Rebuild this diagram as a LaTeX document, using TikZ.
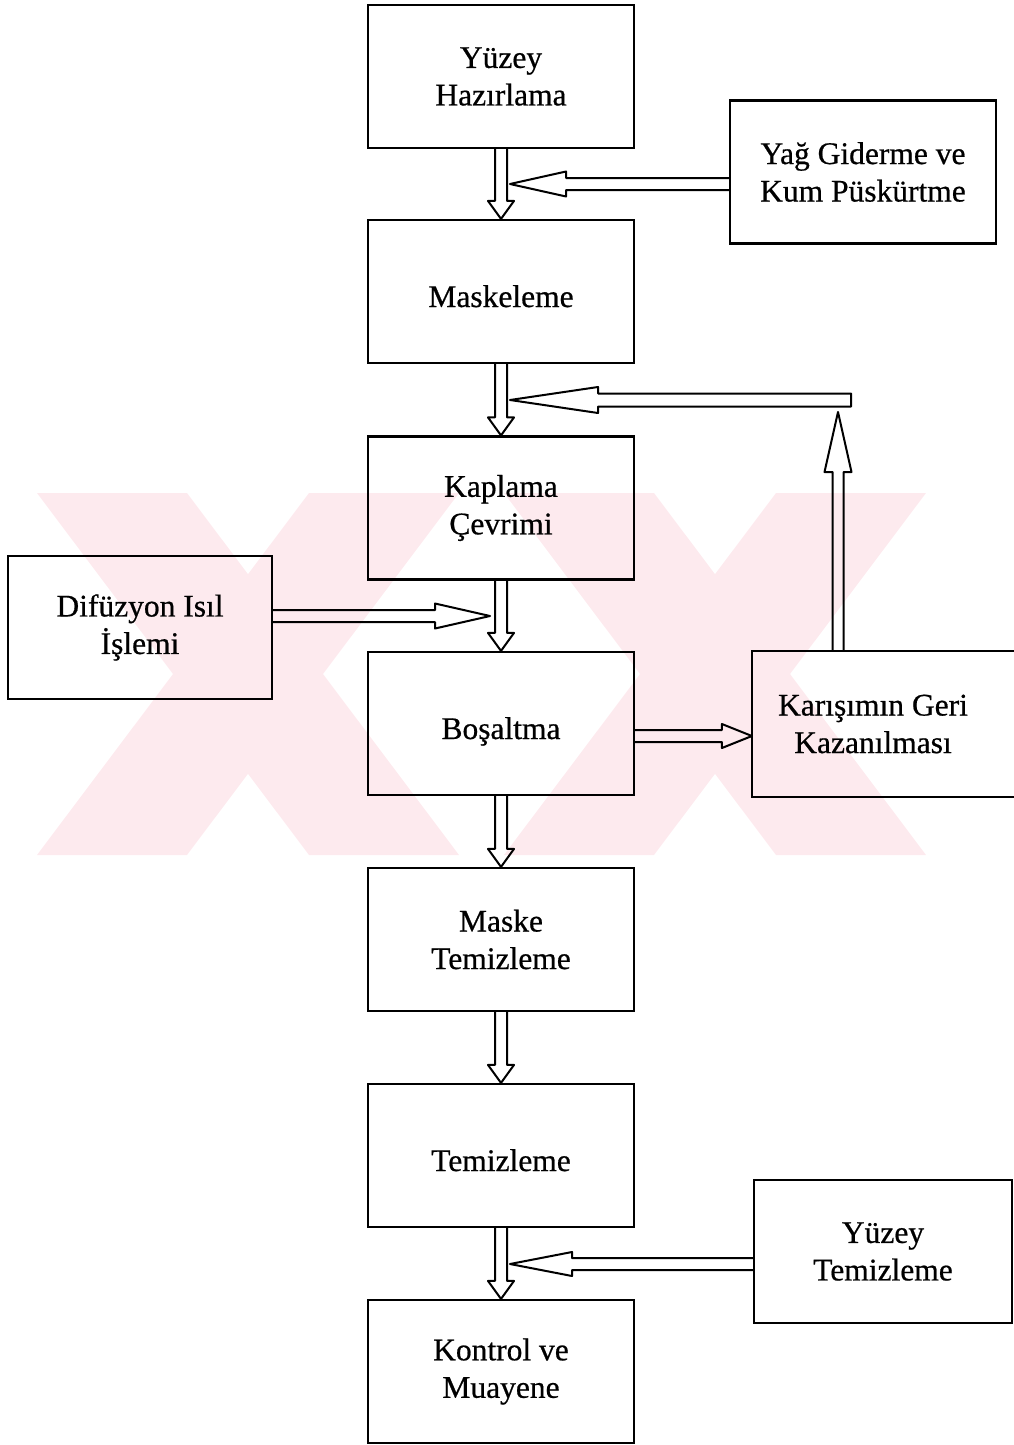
\documentclass[tikz,border=0pt]{standalone}
\usepackage{fontspec}
\setmainfont{Liberation Serif}
\newfontface\heavyserif{Liberation Serif}[FakeBold=0.6]
\usetikzlibrary{calc}
\definecolor{wm}{RGB}{253,234,238}
\tikzset{
  stepbox/.style={draw=black, line width=2.2pt, minimum width=266pt, minimum height=143pt,
    inner sep=0pt, align=center, font=\heavyserif\fontsize{31.5}{37.5}\selectfont},
  oneline/.style={text height=31pt, text depth=0pt},
  arr/.style={draw=black, line width=2pt, line join=round},
  edge/.style={draw=black, line width=2.2pt},
}
% down arrow between stacked boxes
\newcommand\dnarr[2]{\draw[arr] ($(#1.south)+(-6,0)$) -- ($(#2.north)+(-6,-18)$) -- ($(#2.north)+(-13,-18)$) -- (#2.north) -- ($(#2.north)+(13,-18)$) -- ($(#2.north)+(6,-18)$) -- ($(#1.south)+(6,0)$);}
% left-pointing arrow from node #1 to tip #2, head length #3, head half height #4
\newcommand\lfarr[4]{\draw[arr] ($(#1.west |- #2)+(0,-6)$) -- ($(#2)+(#3,-6)$) -- ($(#2)+(#3,-#4)$) -- (#2) -- ($(#2)+(#3,#4)$) -- ($(#2)+(#3,6)$) -- ($(#1.west |- #2)+(0,6)$);}
% right-pointing arrow from node #1 to tip #2
\newcommand\rtarr[4]{\draw[arr] ($(#1.east |- #2)+(0,-6)$) -- ($(#2)+(-#3,-6)$) -- ($(#2)+(-#3,-#4)$) -- (#2) -- ($(#2)+(-#3,#4)$) -- ($(#2)+(-#3,6)$) -- ($(#1.east |- #2)+(0,6)$);}
\begin{document}
\begin{tikzpicture}[x=1pt,y=-1pt]
\useasboundingbox (0,0) rectangle (1014,1445);
% faint watermark
\fill[wm] (37,493) -- (187,493) -- (459,855) -- (309,855) -- cycle;
\fill[wm] (309,493) -- (459,493) -- (187,855) -- (37,855) -- cycle;
\fill[wm] (504,493) -- (654,493) -- (926,855) -- (776,855) -- cycle;
\fill[wm] (776,493) -- (926,493) -- (654,855) -- (504,855) -- cycle;

% main column
\node[stepbox] (yh) at (501,76.5) {Yüzey\\Hazırlama};
\node[stepbox, oneline] (mk) at (501,291.5) {Maskeleme};
\node[stepbox] (kc) at (501,508) {Kaplama\\Çevrimi};
\node[stepbox, oneline] (bo) at (501,723.5) {Boşaltma};
\node[stepbox] (mt) at (501,939.5) {Maske\\Temizleme};
\node[stepbox, oneline] (tm) at (501,1155.5) {Temizleme};
\node[stepbox] (kv) at (501,1371.5) {Kontrol ve\\Muayene};
% side boxes
\node[stepbox] (yg) at (863,172) {Yağ Giderme ve\\Kum Püskürtme};
\node[stepbox, minimum width=264pt] (df) at (140,627.5) {Difüzyon Isıl\\İşlemi};
\node[stepbox, draw=none, minimum width=240pt, minimum height=144pt] (kg) at (873,724) {Karışımın Geri\\Kazanılması};
\draw[edge] ($(kg.north east)+(40,0)$) -- (kg.north west) -- (kg.south west) -- ($(kg.south east)+(40,0)$);
\node[stepbox, minimum width=258pt] (yt) at (883,1251.5) {Yüzey\\Temizleme};

% main flow arrows
\dnarr{yh}{mk}
\dnarr{mk}{kc}
\dnarr{kc}{bo}
\dnarr{bo}{mt}
\dnarr{mt}{tm}
\dnarr{tm}{kv}

% side arrows
\coordinate (t1) at (510,184);
\lfarr{yg}{t1}{56}{12.5}
\coordinate (t6) at (510,1264);
\lfarr{yt}{t6}{62}{12}
\coordinate (t4) at (490,616);
\rtarr{df}{t4}{55}{12.5}
\coordinate (t5) at ($(kg.west)+(0,12)$);
\rtarr{bo}{t5}{30}{12}

% recovery loop
\coordinate (t3) at (838,412);
\draw[arr] ($(t3 |- kg.north)+(-5.5,0)$) -- ($(t3)+(-5.5,60)$) -- ($(t3)+(-13.5,60)$) -- (t3) -- ($(t3)+(13.5,60)$) -- ($(t3)+(5.5,60)$) -- ($(t3 |- kg.north)+(5.5,0)$);
\coordinate (t2) at (510,400);
\coordinate (loopR) at (851,400);
\draw[arr] ($(loopR)+(0,-6.5)$) -- ($(t2)+(88,-6.5)$) -- ($(t2)+(88,-13)$) -- (t2) -- ($(t2)+(88,13)$) -- ($(t2)+(88,6.5)$) -- ($(loopR)+(0,6.5)$) -- cycle;
\end{tikzpicture}
\end{document}
